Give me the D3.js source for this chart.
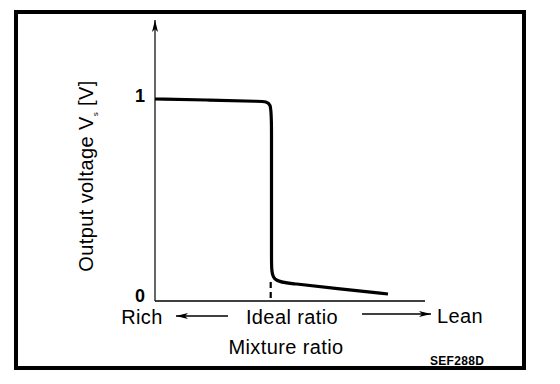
<!DOCTYPE html>
<html>
<head>
<meta charset="utf-8">
<script src="https://cdn.jsdelivr.net/npm/d3@7"></script>
<style>
  body { margin: 0; background: #fff; }
  svg { display: block; }
  text { font-family: "Liberation Sans", Arial, Helvetica, sans-serif; fill: #000; }
</style>
</head>
<body>
<div id="root"></div>
<script>
// mixture ratio, relative to ideal (0 = ideal ratio); negative = rich, positive = lean
const mixture = [-1.15, -0.6, -0.08, 0.015, 0.015, 0.015, 0.015, 0.015, 0.22, 0.70, 1.18]
// sensor output voltage [V]
const voltage = [1.005, 1.0, 0.9925, 0.9925, 0.875, 0.5, 0.19, 0.09, 0.0835, 0.055, 0.03]
const yTicks = [0, 1]
const idealRatio = 0

const width = 560, height = 384

const svg = d3.select("#root").append("svg")
    .attr("width", width)
    .attr("height", height)

// frame
svg.append("rect")
    .attr("x", 16).attr("y", 12)
    .attr("width", 508).attr("height", 356)
    .attr("fill", "none")
    .attr("stroke", "#000")
    .attr("stroke-width", 4)

const x = d3.scaleLinear().domain([-1.15, 1.55]).range([155, 425])
const y = d3.scaleLinear().domain([0, 1]).range([300, 100])

const defs = svg.append("defs")
defs.append("marker")
    .attr("id", "arr")
    .attr("viewBox", "0 0 12 6")
    .attr("refX", 12).attr("refY", 3)
    .attr("markerWidth", 12).attr("markerHeight", 6)
    .attr("markerUnits", "userSpaceOnUse")
    .attr("orient", "auto")
  .append("path")
    .attr("d", "M0,0L12,3L0,6L3,3Z")
    .attr("fill", "#000")

// axes
svg.append("line")
    .attr("x1", x(-1.15)).attr("x2", x(-1.15))
    .attr("y1", 301).attr("y2", 20)
    .attr("stroke", "#000").attr("stroke-width", 1.2)
    .attr("marker-end", "url(#arr)")
svg.append("line")
    .attr("x1", x(-1.15)).attr("x2", x(1.55))
    .attr("y1", 301).attr("y2", 301)
    .attr("stroke", "#000").attr("stroke-width", 1.5)

const yAxis = svg.append("g")
    .attr("transform", "translate(145,-4)")
    .call(d3.axisLeft(y).tickValues(yTicks).tickSize(0).tickFormat(d3.format("d")))
yAxis.attr("font-size", 18).attr("font-family", "'Liberation Sans', Arial, sans-serif")
yAxis.select(".domain").remove()
yAxis.selectAll("text")
    .attr("x", 0)
    .attr("font-weight", "bold")

// ideal ratio marker
svg.append("line")
    .attr("x1", x(idealRatio) + 0.7).attr("x2", x(idealRatio) + 0.7)
    .attr("y1", 282).attr("y2", 301)
    .attr("stroke", "#000").attr("stroke-width", 2.2)
    .attr("stroke-dasharray", "6,4")

// curve
const line = d3.line()
    .x((d, i) => x(mixture[i]))
    .y(d => y(d))
    .curve(d3.curveBasis)
svg.append("path")
    .datum(voltage)
    .attr("d", line)
    .attr("fill", "none")
    .attr("stroke", "#000")
    .attr("stroke-width", 3.2)
    .attr("stroke-linejoin", "round")

// labels
const ylab = svg.append("text")
    .attr("transform", "translate(93,176) rotate(-90)")
    .attr("text-anchor", "middle")
    .style("font-size", "20px")
    .style("letter-spacing", "0.4px")
ylab.append("tspan").text("Output voltage V")
ylab.append("tspan")
    .attr("baseline-shift", "sub")
    .style("font-size", "8px")
    .text("s")
ylab.append("tspan").text(" [V]")

const labels = [
    {t: "Rich", x: 142, y: 324},
    {t: "Ideal ratio", x: 292, y: 324},
    {t: "Lean", x: 460, y: 323},
    {t: "Mixture ratio", x: 286, y: 354}
]
svg.selectAll(".lab").data(labels).join("text")
    .attr("class", "lab")
    .attr("x", d => d.x).attr("y", d => d.y)
    .attr("text-anchor", "middle")
    .style("font-size", "20px")
    .style("letter-spacing", "0.4px")
    .text(d => d.t)

svg.append("text").attr("x", 430).attr("y", 365)
    .style("font-size", "12px").style("font-weight", "bold")
    .style("letter-spacing", "0.3px")
    .text("SEF288D")

// direction arrows
svg.append("line")
    .attr("x1", 228).attr("x2", 176)
    .attr("y1", 316).attr("y2", 316)
    .attr("stroke", "#000").attr("stroke-width", 1.5)
    .attr("marker-end", "url(#arr)")
svg.append("line")
    .attr("x1", 362).attr("x2", 431)
    .attr("y1", 314).attr("y2", 314)
    .attr("stroke", "#000").attr("stroke-width", 1.5)
    .attr("marker-end", "url(#arr)")
</script>
</body>
</html>
